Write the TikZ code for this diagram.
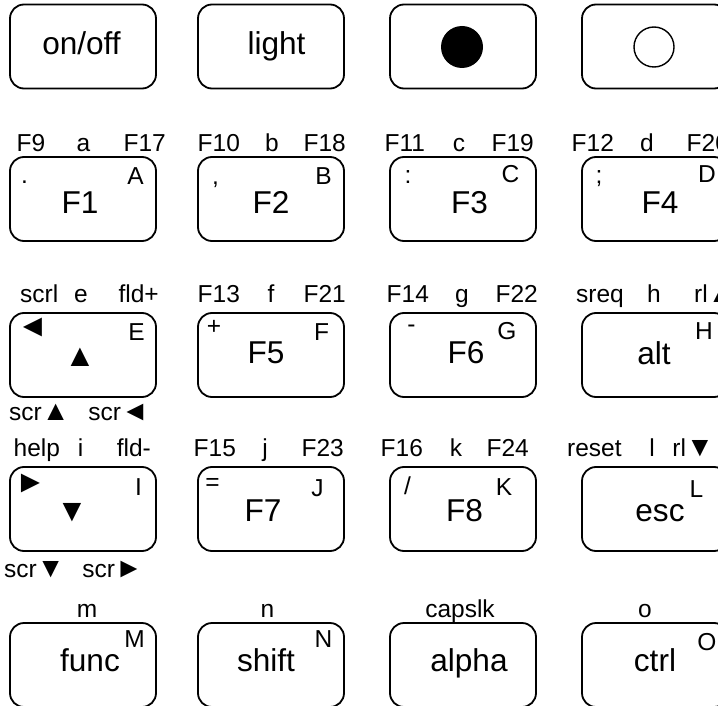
\documentclass[tikz,border=0pt]{standalone}
\usepackage{fontspec}
\setmainfont{Liberation Sans}

\begin{document}
\begin{tikzpicture}[x=1pt,y=1pt,
    key/.style={draw, line width=1.8pt, rounded corners=14pt, minimum width=146pt, minimum height=84pt, inner sep=0pt},
    big/.style={inner sep=0pt, font=\fontsize{31.6}{36}\selectfont},
    small/.style={inner sep=0pt, font=\fontsize{24.5}{28}\selectfont}]
			\useasboundingbox (0,0) rectangle (718,-706);
			\clip (0,0) rectangle (718,-706);

			\node[key] (kOnOff) at (83,-46.5) {};
			\node[key] (kLight) at (271,-46.5) {};
			\node[key] (kDot) at (463,-46.5) {};
			\node[key] (kRing) at (655,-46.5) {};
			\node[big, anchor=base] (tOnOff) at (81.5,-55) {on/off};
			\node[big, anchor=base] (tLight) at (276.5,-55) {light};
			\node[circle, fill, inner sep=0pt, minimum size=42pt] (tDot) at (462,-47) {};
			\node[circle, draw, line width=1.4pt, inner sep=0pt, minimum size=40pt] (tRing) at (654,-47) {};

			\node[key] (kF1) at (83,-199) {};
			\node[key] (kF2) at (271,-199) {};
			\node[key] (kF3) at (463,-199) {};
			\node[key] (kF4) at (655,-199) {};
			\node[big, anchor=base] (tF1) at (80,-213) {F1};
			\node[big, anchor=base] (tF2) at (271,-213) {F2};
			\node[big, anchor=base] (tF3) at (469.5,-213) {F3};
			\node[big, anchor=base] (tF4) at (660,-213) {F4};
			\node[small] (cA) at (135.5,-176.5) {A};
			\node[small] (cB) at (323.5,-176.5) {B};
			\node[small] (cC) at (510.5,-174.5) {C};
			\node[small] (cD) at (707,-174.5) {D};
			\node[small] (sDot) at (24.5,-181.7) {.};
			\node[small] (sComma) at (215.5,-185) {,};
			\node[small] (sColon) at (408,-177) {:};
			\node[small] (sSemi) at (599,-178.5) {;};
			\node[small, anchor=base west] (uF9) at (16.5,-152) {F9};
			\node[small, anchor=base] (ua) at (83.5,-152) {a};
			\node[small, anchor=base east] (uF17) at (166,-152) {F17};
			\node[small, anchor=base west] (uF10) at (197.5,-152) {F10};
			\node[small, anchor=base] (ub) at (272,-152) {b};
			\node[small, anchor=base east] (uF18) at (346,-152) {F18};
			\node[small, anchor=base west] (uF11) at (384.5,-152) {F11};
			\node[small, anchor=base] (uc) at (459,-152) {c};
			\node[small, anchor=base east] (uF19) at (534,-152) {F19};
			\node[small, anchor=base west] (uF12) at (571.5,-152) {F12};
			\node[small, anchor=base] (ud) at (647,-152) {d};
			\node[small, anchor=base west] (uF20) at (686.5,-152) {F20};

			\node[key] (kUp) at (83,-355) {};
			\node[key] (kF5) at (271,-355) {};
			\node[key] (kF6) at (463,-355) {};
			\node[key] (kAlt) at (655,-355) {};
			\node[big] (tUp) at (80,-357) {▲};
			\node[big, anchor=base] (tF5) at (266,-363.5) {F5};
			\node[big, anchor=base] (tF6) at (466,-363.5) {F6};
			\node[big, anchor=base] (tAlt) at (654,-364) {alt};
			\node[small] (cE) at (136.5,-332.5) {E};
			\node[small] (cF) at (321.5,-332.5) {F};
			\node[small] (cG) at (507,-331) {G};
			\node[small] (cH) at (704,-331) {H};
			\node[big] (sLeft) at (32.5,-327.5) {◄};
			\node[small] (sPlus) at (214,-327) {+};
			\node[small] (sMinus) at (411.5,-328.5) {-};
			\node[small, anchor=base west] (uScrl) at (20,-302.5) {scrl};
			\node[small, anchor=base] (ue) at (81,-302.5) {e};
			\node[small, anchor=base east] (uFldPlus) at (159,-302.5) {fld+};
			\node[small, anchor=base west] (uF13) at (197.5,-302.5) {F13};
			\node[small, anchor=base] (uf) at (271,-302.5) {f};
			\node[small, anchor=base east] (uF21) at (346,-302.5) {F21};
			\node[small, anchor=base west] (uF14) at (386.5,-302.5) {F14};
			\node[small, anchor=base] (ug) at (462,-302.5) {g};
			\node[small, anchor=base east] (uF22) at (538,-302.5) {F22};
			\node[small, anchor=base west] (uSreq) at (576,-302.5) {sreq};
			\node[small, anchor=base] (uh) at (654,-302.5) {h};
			\node[small, anchor=base west] (uRlUp) at (694,-302.5) {rl{\fontsize{28}{28}\selectfont▲}};
			\node[small, anchor=base west] (dScrUp) at (9,-420) {scr{\fontsize{28}{28}\selectfont▲}};
			\node[small, anchor=base east] (dScrLeft) at (149,-420) {scr{\fontsize{28}{28}\selectfont◄}};

			\node[key] (kDown) at (83,-509) {};
			\node[key] (kF7) at (271,-509) {};
			\node[key] (kF8) at (463,-509) {};
			\node[key] (kEsc) at (655,-509) {};
			\node[big] (tDown) at (72,-513) {▼};
			\node[big, anchor=base] (tF7) at (263,-521.7) {F7};
			\node[big, anchor=base] (tF8) at (464.5,-521.7) {F8};
			\node[big, anchor=base] (tEsc) at (660,-521.7) {esc};
			\node[small] (cI) at (138.5,-487) {I};
			\node[small] (cJ) at (317.5,-488) {J};
			\node[small] (cK) at (504,-487.3) {K};
			\node[small] (cL) at (696.5,-489) {L};
			\node[big] (sRight) at (30.5,-483.5) {►};
			\node[small] (sEq) at (212.5,-484.5) {=};
			\node[small] (sSlash) at (407.5,-486) {/};
			\node[small, anchor=base west] (uHelp) at (13.5,-456) {help};
			\node[small, anchor=base] (ui) at (80.5,-456) {i};
			\node[small, anchor=base east] (uFldMinus) at (151,-456) {fld-};
			\node[small, anchor=base west] (uF15) at (193.5,-456) {F15};
			\node[small, anchor=base] (uj) at (265,-456) {j};
			\node[small, anchor=base east] (uF23) at (344,-456) {F23};
			\node[small, anchor=base west] (uF16) at (380.5,-456) {F16};
			\node[small, anchor=base] (uk) at (456,-456) {k};
			\node[small, anchor=base east] (uF24) at (529,-456) {F24};
			\node[small, anchor=base west] (uReset) at (567,-456) {reset};
			\node[small, anchor=base] (ul) at (652,-456) {l};
			\node[small, anchor=base east] (uRlDown) at (714,-456) {rl{\fontsize{28}{28}\selectfont▼}};
			\node[small, anchor=base west] (dScrDown) at (4,-577) {scr{\fontsize{28}{28}\selectfont▼}};
			\node[small, anchor=base east] (dScrRight) at (143,-577) {scr{\fontsize{28}{28}\selectfont►}};

			\node[key] (kFunc) at (83,-665) {};
			\node[key] (kShift) at (271,-665) {};
			\node[key] (kAlpha) at (463,-665) {};
			\node[key] (kCtrl) at (655,-665) {};
			\node[big, anchor=base] (tFunc) at (90,-671.7) {func};
			\node[big, anchor=base] (tShift) at (266,-671.7) {shift};
			\node[big, anchor=base] (tAlpha) at (469,-671.7) {alpha};
			\node[big, anchor=base] (tCtrl) at (655,-671.7) {ctrl};
			\node[small] (cM) at (134.5,-639.5) {M};
			\node[small] (cN) at (323.5,-639.5) {N};
			\node[small] (cO) at (707,-642.5) {O};
			\node[small, anchor=base] (um) at (87,-617) {m};
			\node[small, anchor=base] (un) at (267.5,-617) {n};
			\node[small, anchor=base] (uCapslk) at (460,-617) {capslk};
			\node[small, anchor=base] (uo) at (645,-617) {o};
		\end{tikzpicture}
\end{document}
